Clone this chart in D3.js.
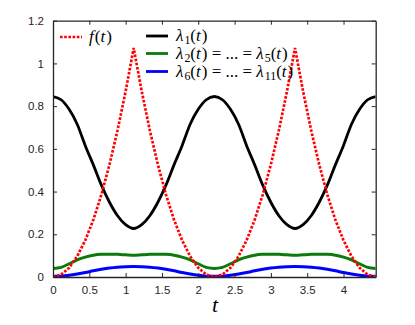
<!DOCTYPE html>
<html>
<head>
<meta charset="utf-8">
<script src="https://cdn.jsdelivr.net/npm/d3@7"></script>
<style>
  html, body { margin: 0; padding: 0; background: #fff; }
  svg { display: block; }
</style>
</head>
<body>
<svg id="chart" width="415" height="325"></svg>
<script>
// ---- data ----
const tValues = [0.0000,0.1111,0.2221,0.3332,0.4443,0.5554,0.6664,0.7775,0.8886,0.9997,1.1107,
  1.2218,1.3329,1.4440,1.5550,1.6661,1.7772,1.8883,1.9993,2.1104,2.2214,
  2.3325,2.4436,2.5547,2.6657,2.7768,2.8879,2.9990,3.1100,3.2211,3.3322,
  3.4433,3.5543,3.6654,3.7765,3.8875,3.9986,4.1097,4.2208,4.3318,4.4429];
const fValues = [0,0.011,0.043,0.097,0.172,0.268,0.386,0.526,0.687,0.869,1.072,
  0.869,0.687,0.526,0.386,0.268,0.172,0.097,0.043,0.011,0,
  0.011,0.043,0.097,0.172,0.268,0.386,0.526,0.687,0.869,1.072,
  0.869,0.687,0.526,0.386,0.268,0.172,0.097,0.043,0.011,0];
const lambda1Values = [0.845,0.830,0.785,0.715,0.615,0.525,0.430,0.350,0.287,0.245,0.227,
  0.245,0.287,0.350,0.430,0.525,0.615,0.715,0.785,0.830,0.845,
  0.830,0.785,0.715,0.615,0.525,0.430,0.350,0.287,0.245,0.227,
  0.245,0.287,0.350,0.430,0.525,0.615,0.715,0.785,0.830,0.845];
const lambda2Values = [0.040,0.045,0.062,0.080,0.093,0.102,0.106,0.107,0.106,0.104,0.102,
  0.104,0.106,0.107,0.106,0.102,0.093,0.080,0.062,0.045,0.040,
  0.045,0.062,0.080,0.093,0.102,0.106,0.107,0.106,0.104,0.102,
  0.104,0.106,0.107,0.106,0.102,0.093,0.080,0.062,0.045,0.040];
const lambda6Values = [0.003,0.004,0.008,0.014,0.021,0.029,0.036,0.042,0.046,0.048,0.049,
  0.048,0.046,0.042,0.036,0.029,0.021,0.014,0.008,0.004,0.003,
  0.004,0.008,0.014,0.021,0.029,0.036,0.042,0.046,0.048,0.049,
  0.048,0.046,0.042,0.036,0.029,0.021,0.014,0.008,0.004,0.003];
const xTicks = [0,0.5,1,1.5,2,2.5,3,3.5,4];
const xTickLabels = ["0","0.5","1","1.5","2","2.5","3","3.5","4"];
const yTicks = [0,0.2,0.4,0.6,0.8,1,1.2];
const yTickLabels = ["0","0.2","0.4","0.6","0.8","1","1.2"];
const xDomain = [0, 4.4429];
const yDomain = [0, 1.2];

// ---- layout ----
const svg = d3.select("#chart");
const L = 53, R = 375.7, T = 20.7, B = 277;
const x = d3.scaleLinear().domain(xDomain).range([L, R]);
const y = d3.scaleLinear().domain(yDomain).range([B, T]);
const axisColor = "#262626";
const tickFont = '"Liberation Sans"';
const mathFont = '"Times New Roman"';

svg.append("defs").append("clipPath").attr("id", "clip")
  .append("rect").attr("x", L).attr("y", T).attr("width", R - L).attr("height", B - T);

const plot = svg.append("g").attr("clip-path", "url(#clip)");
const line = vals => d3.line().x((d, i) => x(tValues[i])).y(d => y(d)).curve(d3.curveMonotoneX)(vals);

plot.append("path").attr("d", line(lambda1Values)).attr("fill", "none")
  .attr("stroke", "#000").attr("stroke-width", 2.8);
plot.append("path").attr("d", line(lambda2Values)).attr("fill", "none")
  .attr("stroke", "#0a7a0a").attr("stroke-width", 3);
plot.append("path").attr("d", line(lambda6Values)).attr("fill", "none")
  .attr("stroke", "#0000ff").attr("stroke-width", 3);
plot.append("path").attr("d", d3.line().x((d, i) => x(tValues[i])).y(d => y(d)).curve(d3.curveLinear)(fValues))
  .attr("fill", "none").attr("stroke", "#ff0000").attr("stroke-width", 2.7)
  .attr("stroke-dasharray", "2.6,1.6");

// ---- axes ----
const axB = svg.append("g").attr("transform", `translate(0,${B})`)
  .call(d3.axisBottom(x).tickValues(xTicks).tickFormat((d, i) => xTickLabels[i]).tickSizeInner(-4).tickSizeOuter(0).tickPadding(9));
const axT = svg.append("g").attr("transform", `translate(0,${T})`)
  .call(d3.axisTop(x).tickValues(xTicks).tickFormat("").tickSizeInner(-4).tickSizeOuter(0));
const axLft = svg.append("g").attr("transform", `translate(${L},0)`)
  .call(d3.axisLeft(y).tickValues(yTicks).tickFormat((d, i) => yTickLabels[i]).tickSizeInner(-4).tickSizeOuter(0).tickPadding(9));
const axRt = svg.append("g").attr("transform", `translate(${R},0)`)
  .call(d3.axisRight(y).tickValues(yTicks).tickFormat("").tickSizeInner(-4).tickSizeOuter(0));
[axB, axT, axLft, axRt].forEach(g => {
  g.attr("font-family", null).attr("font-size", null);
  g.selectAll("path.domain").attr("stroke", axisColor).attr("stroke-width", 1.3);
  g.selectAll(".tick line").attr("stroke", axisColor).attr("stroke-width", 1);
  g.selectAll(".tick text").attr("fill", axisColor).style("font-family", tickFont).style("font-size", "11.5px");
});

// x label
svg.append("text").attr("x", 215).attr("y", 312).attr("text-anchor", "middle")
  .style("font-family", mathFont).style("font-style", "italic").style("font-size", "22px").attr("fill", "#000").text("t");

// ---- legend ----
const legend = svg.append("g");
const fs = 17;
function mathText(g, xPos, yPos, parts) {
  const t = g.append("text").attr("x", xPos).attr("y", yPos)
    .style("font-family", mathFont).style("font-size", fs + "px").attr("fill", "#000");
  let prevItalic = false;
  parts.forEach(p => {
    const s = t.append("tspan").style("font-family", mathFont).text(p.s);
    let dy = 0;
    if (p.i) s.style("font-style", "italic");
    if (p.sub) { s.style("font-size", (fs * 0.7) + "px"); dy = 3; }
    if (p.up) dy = -3;
    if (dy) s.attr("dy", dy);
    if (prevItalic) s.attr("dx", 1);
    prevItalic = !!p.i;
  });
}
const legendItems = [
  {x1: 60, x2: 82, yy: 37, color: "#ff0000", dash: "2.6,1.6", tx: 89,
   parts: [{s: "f", i: 1}, {s: "("}, {s: "t", i: 1}, {s: ")"}]},
  {x1: 146, x2: 168, yy: 36, color: "#000", tx: 176,
   parts: [{s: "λ", i: 1}, {s: "1", sub: 1}, {s: "(", up: 1}, {s: "t", i: 1}, {s: ")"}]},
  {x1: 146, x2: 168, yy: 53.5, color: "#0a7a0a", tx: 176,
   parts: [{s: "λ", i: 1}, {s: "2", sub: 1}, {s: "(", up: 1}, {s: "t", i: 1}, {s: ") = ... = "},
           {s: "λ", i: 1}, {s: "5", sub: 1}, {s: "(", up: 1}, {s: "t", i: 1}, {s: ")"}]},
  {x1: 146, x2: 168, yy: 71.5, color: "#0000ff", tx: 176,
   parts: [{s: "λ", i: 1}, {s: "6", sub: 1}, {s: "(", up: 1}, {s: "t", i: 1}, {s: ") = ... = "},
           {s: "λ", i: 1}, {s: "11", sub: 1}, {s: "(", up: 1}, {s: "t", i: 1}, {s: ")"}]}
];
legendItems.forEach(it => {
  const ln = legend.append("line").attr("x1", it.x1).attr("x2", it.x2).attr("y1", it.yy).attr("y2", it.yy)
    .attr("stroke", it.color).attr("stroke-width", it.dash ? 2.7 : 2.8);
  if (it.dash) ln.attr("stroke-dasharray", it.dash);
  mathText(legend, it.tx, it.yy + 5, it.parts);
});
</script>
</body>
</html>
